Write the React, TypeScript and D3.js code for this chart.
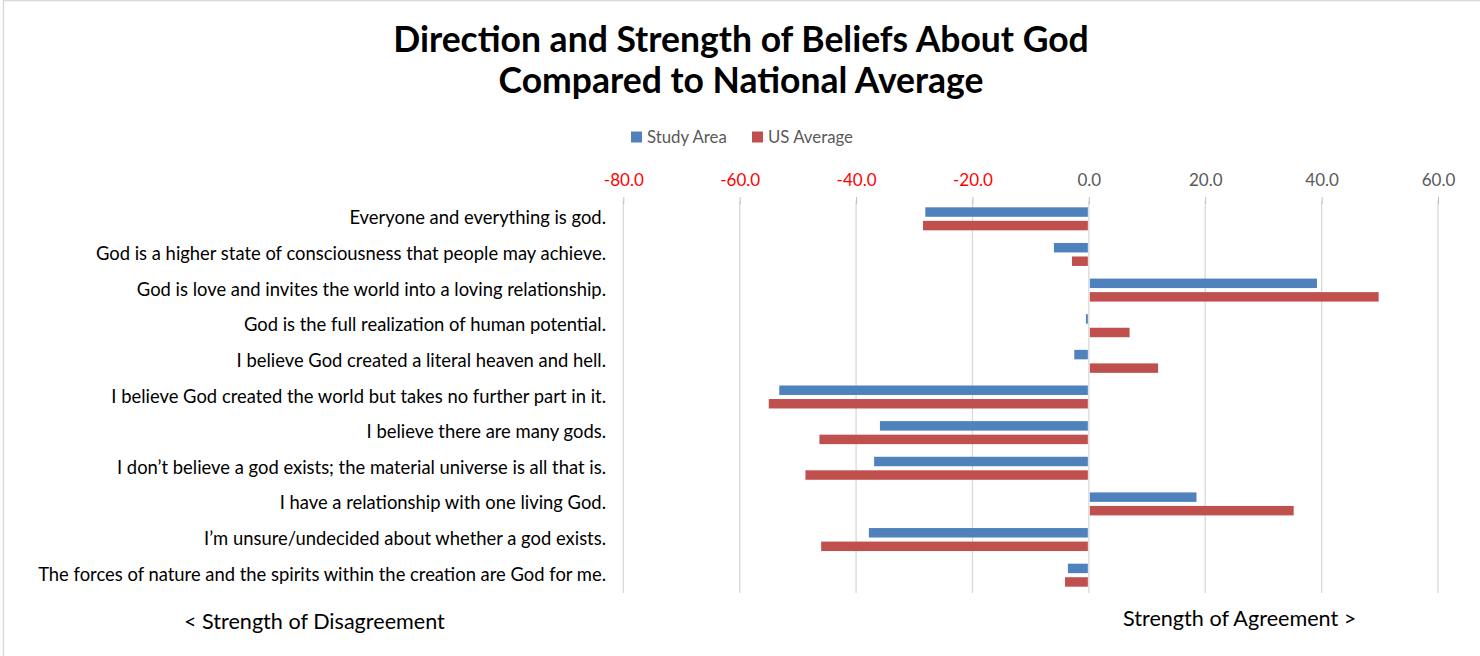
import React, { useEffect, useRef } from "react";
import * as d3 from "d3";

const categories = [
  "Everyone and everything is god.",
  "God is a higher state of consciousness that people may achieve.",
  "God is love and invites the world into a loving relationship.",
  "God is the full realization of human potential.",
  "I believe God created a literal heaven and hell.",
  "I believe God created the world but takes no further part in it.",
  "I believe there are many gods.",
  "I don\u2019t believe a god exists; the material universe is all that is.",
  "I have a relationship with one living God.",
  "I\u2019m unsure/undecided about whether a god exists.",
  "The forces of nature and the spirits within the creation are God for me.",
];

const studyArea = [-28.1, -6.0, 39.2, -0.5, -2.5, -53.2, -35.9, -36.9, 18.5, -37.8, -3.6];
const usAverage = [-28.5, -2.9, 49.8, 7.0, 11.9, -55.0, -46.3, -48.7, 35.2, -46.0, -4.1];

const seriesNames = ["Study Area", "US Average"];
const seriesColors = ["#4f81bd", "#c0504d"];
const tickValues = [-80, -60, -40, -20, 0, 20, 40, 60];
const titleLines = ["Direction and Strength of Beliefs About God", "Compared to National Average"];
const leftNote = "< Strength of Disagreement";
const rightNote = "Strength of Agreement >";

const W = 1480;
const H = 656;
const FONT = "Lato, 'Open Sans', sans-serif";

export default function App() {
  const ref = useRef<SVGSVGElement>(null);

  useEffect(() => {
    const svg = d3.select(ref.current);
    svg.selectAll("*").remove();

    svg.append("rect").attr("x", 0).attr("y", 0).attr("width", W).attr("height", H).attr("fill", "#fff");
    // light frame (top and left)
    svg.append("line").attr("x1", 3.5).attr("x2", W).attr("y1", 0.5).attr("y2", 0.5).attr("stroke", "#d9d9d9").attr("stroke-width", 1.5);
    svg.append("line").attr("x1", 3.5).attr("x2", 3.5).attr("y1", 0).attr("y2", H).attr("stroke", "#d9d9d9").attr("stroke-width", 1.5);

    const x = d3.scaleLinear().domain([-80, 60]).range([623.3, 1438]);
    const y = d3.scaleBand<string>().domain(categories).range([201, 593]).paddingInner(0);
    const sub = d3.scaleBand<string>().domain(seriesNames).range([-11.5, 11.5]).paddingInner(0.3);

    // title
    const title = svg.append("g");
    titleLines.forEach((t, i) => {
      title
        .append("text")
        .attr("x", 741)
        .attr("y", 52 + i * 41)
        .attr("text-anchor", "middle")
        .attr("font-family", FONT)
        .attr("font-weight", 700)
        .attr("font-size", 35.5)
        .attr("fill", "#000")
        .text(t);
    });

    // legend
    const legend = svg.append("g");
    const legendX = [631, 752];
    seriesNames.forEach((s, i) => {
      legend.append("rect").attr("x", legendX[i]).attr("y", 131.5).attr("width", 11).attr("height", 11).attr("fill", seriesColors[i]);
      legend
        .append("text")
        .attr("x", legendX[i] + 16)
        .attr("y", 142.5)
        .attr("font-family", FONT)
        .attr("font-size", 16.8)
        .attr("fill", "#595959")
        .text(s);
    });

    // gridlines
    const grid = svg.append("g");
    grid
      .selectAll("line")
      .data(tickValues)
      .join("line")
      .attr("x1", (d) => x(d))
      .attr("x2", (d) => x(d))
      .attr("y1", 201)
      .attr("y2", 593)
      .attr("stroke", "#d9d9d9")
      .attr("stroke-width", 1.3);

    // top axis
    const axis = svg.append("g").attr("transform", "translate(0,200)");
    axis.call(
      d3
        .axisTop(x)
        .tickValues(tickValues)
        .tickSize(4)
        .tickPadding(10)
        .tickFormat((d) => (d as number).toFixed(1))
    );
    axis.select(".domain").remove();
    axis.selectAll(".tick line").attr("stroke", "#bfbfbf").attr("y1", 4).attr("y2", -3);
    axis
      .selectAll<SVGTextElement, number>(".tick text")
      .attr("font-family", FONT)
      .attr("font-size", 17)
      .attr("fill", (d) => (d < 0 ? "#ff0000" : "#595959"));

    // bars
    const data = categories.map((c, i) => ({ c, vals: [studyArea[i], usAverage[i]] }));
    const groups = svg
      .append("g")
      .selectAll("g")
      .data(data)
      .join("g")
      .attr("transform", (d) => `translate(0,${(y(d.c) as number) + y.bandwidth() / 2})`);
    groups
      .selectAll("rect")
      .data((d) => d.vals.map((v, j) => ({ v, s: seriesNames[j], color: seriesColors[j] })))
      .join("rect")
      .attr("x", (d) => (d.v < 0 ? x(d.v) : x(0) + 1))
      .attr("width", (d) => Math.max(0, Math.abs(x(d.v) - x(0)) - 1))
      .attr("y", (d) => sub(d.s) as number)
      .attr("height", sub.bandwidth())
      .attr("fill", (d) => d.color);

    // category labels
    svg
      .append("g")
      .selectAll("text")
      .data(categories)
      .join("text")
      .attr("x", 606)
      .attr("y", (d) => (y(d) as number) + y.bandwidth() / 2 + 5.5)
      .attr("text-anchor", "end")
      .attr("font-family", FONT)
      .attr("font-size", 18.4)
      .attr("fill", "#000")
      .text((d) => d);

    // notes
    svg
      .append("text")
      .attr("x", 184)
      .attr("y", 629)
      .attr("font-family", FONT)
      .attr("font-size", 21.6)
      .attr("fill", "#000")
      .text(leftNote);
    svg
      .append("text")
      .attr("x", 1123)
      .attr("y", 626)
      .attr("font-family", FONT)
      .attr("font-size", 21.6)
      .attr("fill", "#000")
      .text(rightNote);
  }, []);

  return (
    <svg
      ref={ref}
      width={W}
      height={H}
      style={{ position: "absolute", left: 0, top: 0, display: "block" }}
    />
  );
}
